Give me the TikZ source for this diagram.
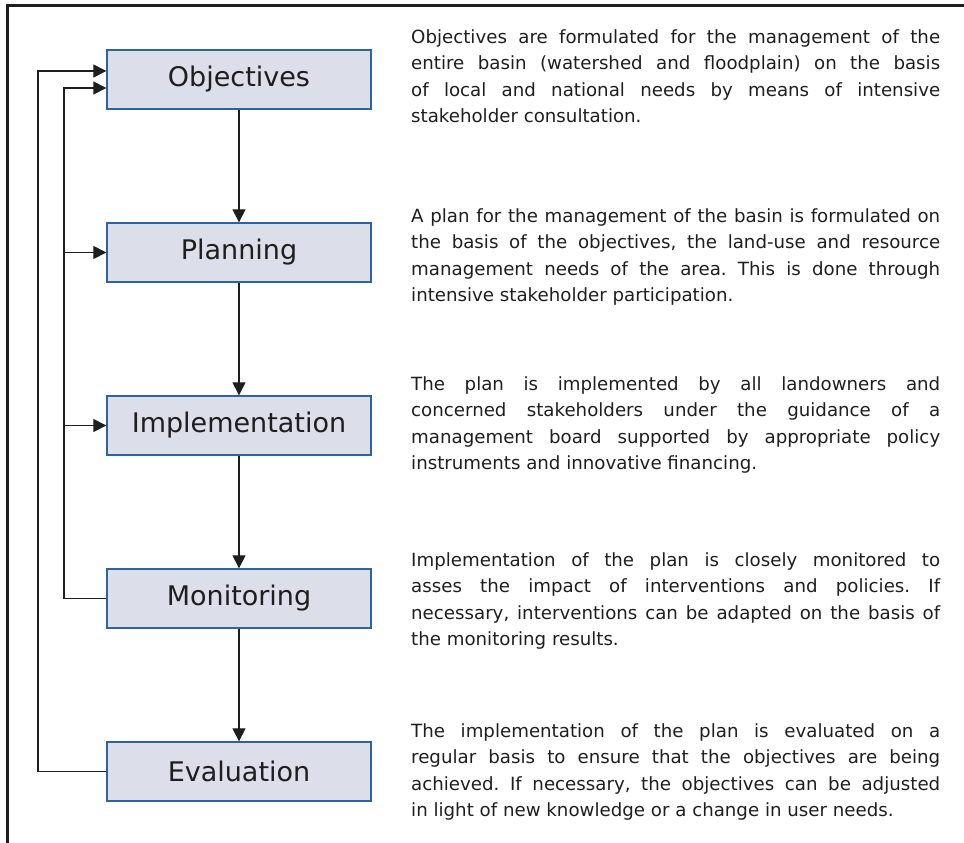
\documentclass[tikz,border=0pt]{standalone}
\usepackage{fontspec}
\setmainfont{DejaVu Sans}
\usetikzlibrary{arrows.meta}
\definecolor{boxfill}{HTML}{DCDFEA}
\definecolor{boxline}{HTML}{2A65A0}
\definecolor{inkc}{HTML}{1E1E1E}
\tikzset{
  stagebox/.style={draw=boxline, line width=1.3bp, fill=boxfill, minimum width=264bp, minimum height=59bp, inner sep=0pt, text=inkc, font=\fontsize{27bp}{30bp}\selectfont},
  conn/.style={draw=inkc, line width=1.1bp},
  arr/.style={conn, -{Triangle[length=13bp,width=13bp]}},
  frameline/.style={draw=inkc, line width=3bp},
  para/.style={anchor=base west, inner sep=0pt, text=inkc}
}
\newcommand{\mypara}[1]{\parbox[t]{529bp}{\fontsize{18.2bp}{26.5bp}\selectfont\frenchspacing\tolerance=10000\hyphenpenalty=10000\emergencystretch=20bp #1}}
\begin{document}
\begin{tikzpicture}[x=1bp,y=-1bp]
\useasboundingbox (0,0) rectangle (964,843);
% frame
\coordinate (ftl) at (7,5);
\coordinate (ftr) at (964,5);
\coordinate (fbl) at (7,843);
\draw[frameline] (ftr) -- (ftl) -- (fbl);
% boxes
\node[stagebox] (obj) at (239,79.5) {Objectives};
\node[stagebox] (pla) at (239,252.5) {Planning};
\node[stagebox] (imp) at (239,425.5) {Implementation};
\node[stagebox] (mon) at (239,598.5) {Monitoring};
\node[stagebox] (eva) at (239,771.5) {Evaluation};
% main flow
\draw[arr] (obj) -- (pla);
\draw[arr] (pla) -- (imp);
\draw[arr] (imp) -- (mon);
\draw[arr] (mon) -- (eva);
% feedback loops
\coordinate (oa) at ([yshift=8.5bp]obj.west);
\coordinate (ob) at ([yshift=-8.5bp]obj.west);
\coordinate (outerx) at (38,0);
\coordinate (innerx) at (64,0);
\draw[arr] (eva.west) -- (eva.west -| outerx) -- (oa -| outerx) -- (oa);
\draw[arr] (mon.west) -- (mon.west -| innerx) -- (ob -| innerx) -- (ob);
\draw[arr] (pla.west -| innerx) -- (pla.west);
\draw[arr] (imp.west -| innerx) -- (imp.west);
% descriptions
\node[para] (t1) at (411,43) {\mypara{Objectives are formulated for the management of the\linebreak
entire basin (watershed and floodplain) on the basis\linebreak
of local and national needs by means of intensive\linebreak
stakeholder consultation.}};
\node[para] (t2) at (411,222) {\mypara{A plan for the management of the basin is formulated on\linebreak
the basis of the objectives, the land-use and resource\linebreak
management needs of the area. This is done through\linebreak
intensive stakeholder participation.}};
\node[para] (t3) at (411,390) {\mypara{The plan is implemented by all landowners and\linebreak
concerned stakeholders under the guidance of a\linebreak
management board supported by appropriate policy\linebreak
instruments and innovative financing.}};
\node[para] (t4) at (411,566) {\mypara{Implementation of the plan is closely monitored to\linebreak
asses the impact of interventions and policies. If\linebreak
necessary, interventions can be adapted on the basis of\linebreak
the monitoring results.}};
\node[para] (t5) at (411,737) {\mypara{The implementation of the plan is evaluated on a\linebreak
regular basis to ensure that the objectives are being\linebreak
achieved. If necessary, the objectives can be adjusted\linebreak
in light of new knowledge or a change in user needs.}};
\end{tikzpicture}
\end{document}
